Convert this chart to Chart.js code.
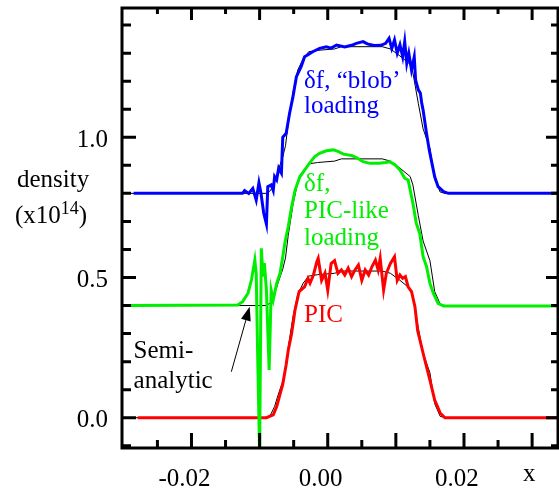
<!DOCTYPE html>
<html>
<head>
<meta charset="utf-8">
<script src="https://cdn.jsdelivr.net/npm/chart.js@4.4.1/dist/chart.umd.min.js"></script>
<style>
  html, body { margin: 0; padding: 0; background: #fff; }
  canvas { display: block; }
</style>
</head>
<body>
<canvas id="densityChart" width="559" height="489"></canvas>
<script>
// density profiles, delta-f vs PIC, each shifted up for clarity

// δf, "blob" loading (offset +0.8)
const blobX = [-0.0285, -0.0125, -0.0122, -0.0116, -0.0110, -0.0105, -0.0101, -0.0098, -0.0094, -0.0090,
  -0.0088, -0.0083, -0.0080, -0.0078, -0.0075, -0.0072, -0.0068, -0.0066, -0.0061, -0.0056,
  -0.0051, -0.0046, -0.0039, -0.0034, -0.0029, -0.0022, -0.0012, -0.0002, 0.0005, 0.0013,
  0.0025, 0.0035, 0.0042, 0.0052, 0.0058, 0.0068, 0.0078, 0.0085, 0.0090, 0.0094,
  0.0098, 0.0102, 0.0106, 0.0110, 0.0113, 0.0116, 0.0119, 0.0123, 0.0127, 0.0129,
  0.0133, 0.0136, 0.0138, 0.0140, 0.0145, 0.0149, 0.0153, 0.0157, 0.0162, 0.0170,
  0.0177, 0.0338];
const blobY = [0.80, 0.80, 0.81, 0.80, 0.818, 0.776, 0.838, 0.80, 0.73, 0.69,
  0.824, 0.83, 0.81, 0.86, 0.848, 0.89, 0.872, 1.00, 1.014, 1.086,
  1.145, 1.216, 1.252, 1.287, 1.294, 1.305, 1.317, 1.323, 1.318, 1.329,
  1.322, 1.328, 1.335, 1.341, 1.333, 1.327, 1.328, 1.335, 1.353, 1.317,
  1.347, 1.300, 1.330, 1.287, 1.341, 1.264, 1.300, 1.240, 1.287, 1.204,
  1.169, 1.157, 1.121, 1.097, 1.014, 0.955, 0.907, 0.859, 0.824, 0.806,
  0.80, 0.80];

// δf, PIC-like loading (offset +0.4)
const picLikeX = [-0.0289, -0.0132, -0.0125, -0.0117, -0.0112, -0.0107, -0.0105, -0.0103, -0.0100, -0.00975,
  -0.0095, -0.0093, -0.0090, -0.0086, -0.0083, -0.0080, -0.0075, -0.0070, -0.0066, -0.0063,
  -0.0058, -0.0053, -0.0048, -0.0041, -0.0034, -0.0027, -0.0019, -0.0012, -0.0002, 0.0008,
  0.0015, 0.0023, 0.0035, 0.0042, 0.0052, 0.0062, 0.0075, 0.0085, 0.0091, 0.0099,
  0.0106, 0.0113, 0.0118, 0.0125, 0.0130, 0.0135, 0.0140, 0.0145, 0.0150, 0.0155,
  0.0162, 0.0170, 0.0338];
const picLikeY = [0.40, 0.402, 0.414, 0.444, 0.491, 0.562, 0.515, 0.241, -0.13, 0.604,
  0.503, 0.551, 0.455, 0.17, 0.455, 0.42, 0.479, 0.515, 0.574, 0.622,
  0.681, 0.752, 0.811, 0.859, 0.883, 0.907, 0.931, 0.943, 0.952, 0.955,
  0.950, 0.940, 0.935, 0.928, 0.913, 0.907, 0.907, 0.910, 0.913, 0.901,
  0.883, 0.854, 0.848, 0.765, 0.693, 0.658, 0.574, 0.539, 0.479, 0.444,
  0.408, 0.398, 0.398];

// PIC (no offset)
const picX = [-0.0279, -0.0090, -0.0080, -0.0075, -0.0071, -0.0066, -0.0061, -0.0058, -0.0053, -0.0048,
  -0.0042, -0.0034, -0.0029, -0.0026, -0.0021, -0.0016, -0.0014, -0.0009, -0.0004, 0.0000,
  0.0005, 0.0010, 0.0015, 0.0020, 0.0025, 0.0030, 0.0035, 0.0040, 0.0045, 0.0050,
  0.0055, 0.0060, 0.0065, 0.0070, 0.0074, 0.0077, 0.0082, 0.0086, 0.0092, 0.0098,
  0.0102, 0.0106, 0.0110, 0.0114, 0.0118, 0.0123, 0.0128, 0.0132, 0.0141, 0.0150,
  0.0157, 0.0165, 0.0172, 0.0338];
const picY = [0, 0, 0.01, 0.039, 0.075, 0.12, 0.19, 0.24, 0.30, 0.384,
  0.45, 0.467, 0.497, 0.48, 0.509, 0.556, 0.568, 0.49, 0.516, 0.455,
  0.55, 0.56, 0.515, 0.527, 0.509, 0.533, 0.503, 0.527, 0.545, 0.49,
  0.527, 0.509, 0.539, 0.562, 0.527, 0.568, 0.455, 0.515, 0.55, 0.574,
  0.49, 0.509, 0.497, 0.503, 0.467, 0.45, 0.396, 0.31, 0.22, 0.134,
  0.063, 0.017, 0, 0];

// semi-analytic profile, drawn under each curve with the same offsets
const semiX = [-0.0302, -0.0090, -0.0084, -0.0078, -0.0073, -0.0066, -0.0062, -0.0058, -0.0051, -0.0044,
  -0.0036, -0.0028, -0.0015, 0.0010, 0.0020, 0.0080, 0.0092, 0.0106, 0.0121, 0.0125,
  0.0133, 0.0140, 0.0150, 0.0157, 0.0165, 0.0172, 0.0338];
const semiY = [0, 0, 0.01, 0.04, 0.08, 0.13, 0.17, 0.25, 0.36, 0.44,
  0.48, 0.505, 0.51, 0.515, 0.523, 0.523, 0.515, 0.49, 0.46, 0.43,
  0.32, 0.23, 0.16, 0.05, 0.005, 0, 0];
const offsets = [0.8, 0.4, 0];

const xLabels = [-0.02, 0, 0.02];
const yLabels = [0, 0.5, 1.0];

const toPts = (xs, ys, shift = 0) => xs.map((x, i) => ({ x: x, y: ys[i] + shift }));

const serif = "'Liberation Serif', 'Times New Roman', serif";

const curve = (pts, color, width) => ({
  data: pts, borderColor: color, borderWidth: width, showLine: true,
  pointRadius: 0, tension: 0, fill: false
});

// annotations in data coordinates
const notes = [
  { t: "δf, \u201Cblob\u2019", x: -0.00348, y: 1.175, c: "#0000ff" },
  { t: "loading", x: -0.00348, y: 1.0856, c: "#0000ff" },
  { t: "δf,", x: -0.00348, y: 0.8096, c: "#00ee00" },
  { t: "PIC-like", x: -0.00348, y: 0.711, c: "#00ee00" },
  { t: "loading", x: -0.00348, y: 0.616, c: "#00ee00" },
  { t: "PIC", x: -0.00348, y: 0.342, c: "#ff0000" },
  { t: "Semi-", x: -0.0285, y: 0.212, c: "#000" },
  { t: "analytic", x: -0.0285, y: 0.105, c: "#000" }
];

const frame = {
  id: "frame",
  afterDatasetsDraw(chart) {
    const { ctx, chartArea: a, scales: { x, y } } = chart;
    ctx.save();
    ctx.strokeStyle = "#000";
    ctx.lineWidth = 3;
    ctx.strokeRect(a.left, a.top, a.right - a.left, a.bottom - a.top);
    ctx.beginPath();
    for (let k = -5; k <= 6; k++) {
      const p = x.getPixelForValue(k * 0.005);
      const major = k % 2 === 0;
      ctx.moveTo(p, a.bottom); ctx.lineTo(p, a.bottom - (major ? 15 : 8));
      ctx.moveTo(p, a.top); ctx.lineTo(p, a.top + (major ? 12 : 6));
    }
    for (let k = -1; k <= 14; k++) {
      const p = y.getPixelForValue(k * 0.1);
      const major = k % 5 === 0;
      ctx.moveTo(a.left, p); ctx.lineTo(a.left + (major ? 14 : 9), p);
      ctx.moveTo(a.right, p); ctx.lineTo(a.right - (major ? 12 : 7), p);
    }
    ctx.stroke();
    ctx.restore();
  },
  afterDraw(chart) {
    const { ctx, scales: { x, y } } = chart;
    ctx.save();
    ctx.font = "25px " + serif;
    ctx.textBaseline = "alphabetic";
    ctx.textAlign = "left";
    notes.forEach(n => {
      ctx.fillStyle = n.c;
      ctx.fillText(n.t, x.getPixelForValue(n.x), y.getPixelForValue(n.y));
    });

    // arrow to the semi-analytic line
    const x0 = x.getPixelForValue(-0.01415), y0 = y.getPixelForValue(0.164);
    const x1 = x.getPixelForValue(-0.01146), y1 = y.getPixelForValue(0.396);
    const len = Math.hypot(x1 - x0, y1 - y0);
    const ux = (x1 - x0) / len, uy = (y1 - y0) / len;
    const hl = 14, hw = 5;
    ctx.strokeStyle = "#000";
    ctx.fillStyle = "#000";
    ctx.lineWidth = 1;
    ctx.beginPath();
    ctx.moveTo(x0, y0);
    ctx.lineTo(x1 - ux * hl, y1 - uy * hl);
    ctx.stroke();
    ctx.beginPath();
    ctx.moveTo(x1, y1);
    ctx.lineTo(x1 - ux * hl - uy * hw, y1 - uy * hl + ux * hw);
    ctx.lineTo(x1 - ux * hl + uy * hw, y1 - uy * hl - ux * hw);
    ctx.closePath();
    ctx.fill();

    // axis titles
    ctx.fillStyle = "#000";
    ctx.fillText("density", 17, 187);
    ctx.fillText("(x10", 15, 223);
    const w = ctx.measureText("(x10").width;
    ctx.font = "18px " + serif;
    ctx.fillText("14", 15 + w, 214);
    const w2 = ctx.measureText("14").width;
    ctx.font = "25px " + serif;
    ctx.fillText(")", 15 + w + w2, 223);
    ctx.fillText("x", 523, 481);
    ctx.restore();
  }
};

new Chart(document.getElementById("densityChart"), {
  type: "scatter",
  data: {
    datasets: [
      curve(toPts(blobX, blobY), "#0000ff", 3),
      curve(toPts(picLikeX, picLikeY), "#00ee00", 3),
      curve(toPts(picX, picY), "#ff0000", 3),
      ...offsets.map(o => curve(toPts(semiX, semiY, o), "#000", 1))
    ]
  },
  options: {
    responsive: false,
    devicePixelRatio: 1,
    animation: false,
    layout: { padding: { top: 8, right: 1, left: 0, bottom: 0 } },
    plugins: { legend: { display: false }, tooltip: { enabled: false } },
    scales: {
      x: {
        type: "linear", min: -0.0302, max: 0.0338,
        grid: { display: false, drawTicks: false },
        border: { display: false },
        afterBuildTicks: s => { s.ticks = xLabels.map(v => ({ value: v })); },
        afterFit: s => { s.height = 41; s.paddingLeft = 0; s.paddingRight = 0; },
        ticks: {
          font: { family: serif, size: 25 }, color: "#000",
          padding: 16, labelOffset: -7, maxRotation: 0, autoSkip: false,
          callback: v => v.toFixed(2)
        }
      },
      y: {
        type: "linear", min: -0.108, max: 1.461,
        grid: { display: false, drawTicks: false },
        border: { display: false },
        afterBuildTicks: s => { s.ticks = yLabels.map(v => ({ value: v })); },
        afterFit: s => { s.width = 122; s.paddingTop = 0; s.paddingBottom = 0; },
        ticks: {
          font: { family: serif, size: 25 }, color: "#000",
          padding: 14, labelOffset: 3, autoSkip: false,
          callback: v => v.toFixed(1)
        }
      }
    }
  },
  plugins: [frame]
});
</script>
</body>
</html>
